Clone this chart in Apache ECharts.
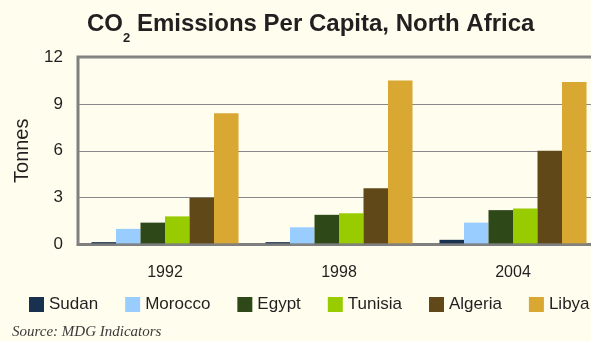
<!DOCTYPE html>
<html>
<head>
<meta charset="utf-8">
<script src="https://cdn.jsdelivr.net/npm/echarts@6/dist/echarts.min.js"></script>
<style>
html,body{margin:0;padding:0;background:#fffdee;}
#c{width:591px;height:341px;}
</style>
</head>
<body>
<div id="c"></div>
<script>
const categories = ['1992', '1998', '2004'];
const seriesNames = ['Sudan', 'Morocco', 'Egypt', 'Tunisia', 'Algeria', 'Libya'];
const sudan   = [0.15, 0.15, 0.3];
const morocco = [1.0, 1.1, 1.4];
const egypt   = [1.4, 1.9, 2.2];
const tunisia = [1.8, 2.0, 2.3];
const algeria = [3.0, 3.6, 6.0];
const libya   = [8.4, 10.5, 10.4];
const yTicks = [0, 3, 6, 9, 12];
const colors = ['#17314f', '#99ccff', '#2e4818', '#99cc00', '#614818', '#d9a832'];

const values = [sudan, morocco, egypt, tunisia, algeria, libya];
const FONT = 'Arial, "Liberation Sans", Helvetica, sans-serif';

const chart = echarts.init(document.getElementById('c'), null, {renderer: 'canvas'});
chart.setOption({
  backgroundColor: '#fffdee',
  animation: false,
  color: colors,
  title: {
    left: 87,
    top: 12,
    padding: 0,
    text: '{a|CO}{b|2}{a| Emissions Per Capita, North Africa}',
    textStyle: {
      rich: {
        a: {fontSize: 24, fontWeight: 'bold', fontFamily: FONT, color: '#231f20', lineHeight: 30, verticalAlign: 'top'},
        b: {fontSize: 13, fontWeight: 'bold', fontFamily: FONT, color: '#231f20', lineHeight: 14, padding: [20, 0, 0, 0], verticalAlign: 'top'}
      }
    }
  },
  legend: {
    left: 29,
    top: 296,
    padding: 0,
    itemWidth: 15,
    itemHeight: 15,
    itemGap: 27,
    icon: 'rect',
    data: seriesNames,
    textStyle: {fontSize: 17, fontFamily: FONT, color: '#231f20'}
  },
  grid: {
    left: 78, right: -9, top: 57, bottom: 96.5,
    outerBoundsMode: 'none',
    containLabel: false,
    show: true, borderColor: '#808080', borderWidth: 3,
    backgroundColor: 'transparent'
  },
  xAxis: {
    type: 'category',
    data: categories,
    z: 3,
    axisLine: {show: true, lineStyle: {color: 'rgba(128,128,128,0.9)', width: 2.5}},
    axisTick: {show: false},
    axisLabel: {fontSize: 16, fontFamily: FONT, color: '#231f20', margin: 20}
  },
  yAxis: {
    type: 'value',
    min: yTicks[0], max: yTicks[yTicks.length - 1], interval: 3,
    name: 'Tonnes',
    nameLocation: 'middle',
    nameGap: 46,
    nameTextStyle: {fontSize: 20, fontFamily: FONT, color: '#231f20'},
    axisLine: {show: false},
    axisTick: {show: false},
    axisLabel: {fontSize: 17, fontFamily: FONT, color: '#231f20', margin: 15},
    splitLine: {show: true, lineStyle: {color: '#888888', width: 1.2}}
  },
  series: seriesNames.map((n, i) => ({
    name: n,
    type: 'bar',
    data: values[i],
    barGap: '0%',
    barCategoryGap: '15.5%',
    itemStyle: {color: colors[i]}
  })),
  graphic: [{
    type: 'text',
    left: 12,
    top: 325,
    style: {text: 'Source: MDG Indicators', font: 'italic 15px "Liberation Serif", "Times New Roman", serif', fill: '#3a3a3a'}
  }]
});
</script>
</body>
</html>
